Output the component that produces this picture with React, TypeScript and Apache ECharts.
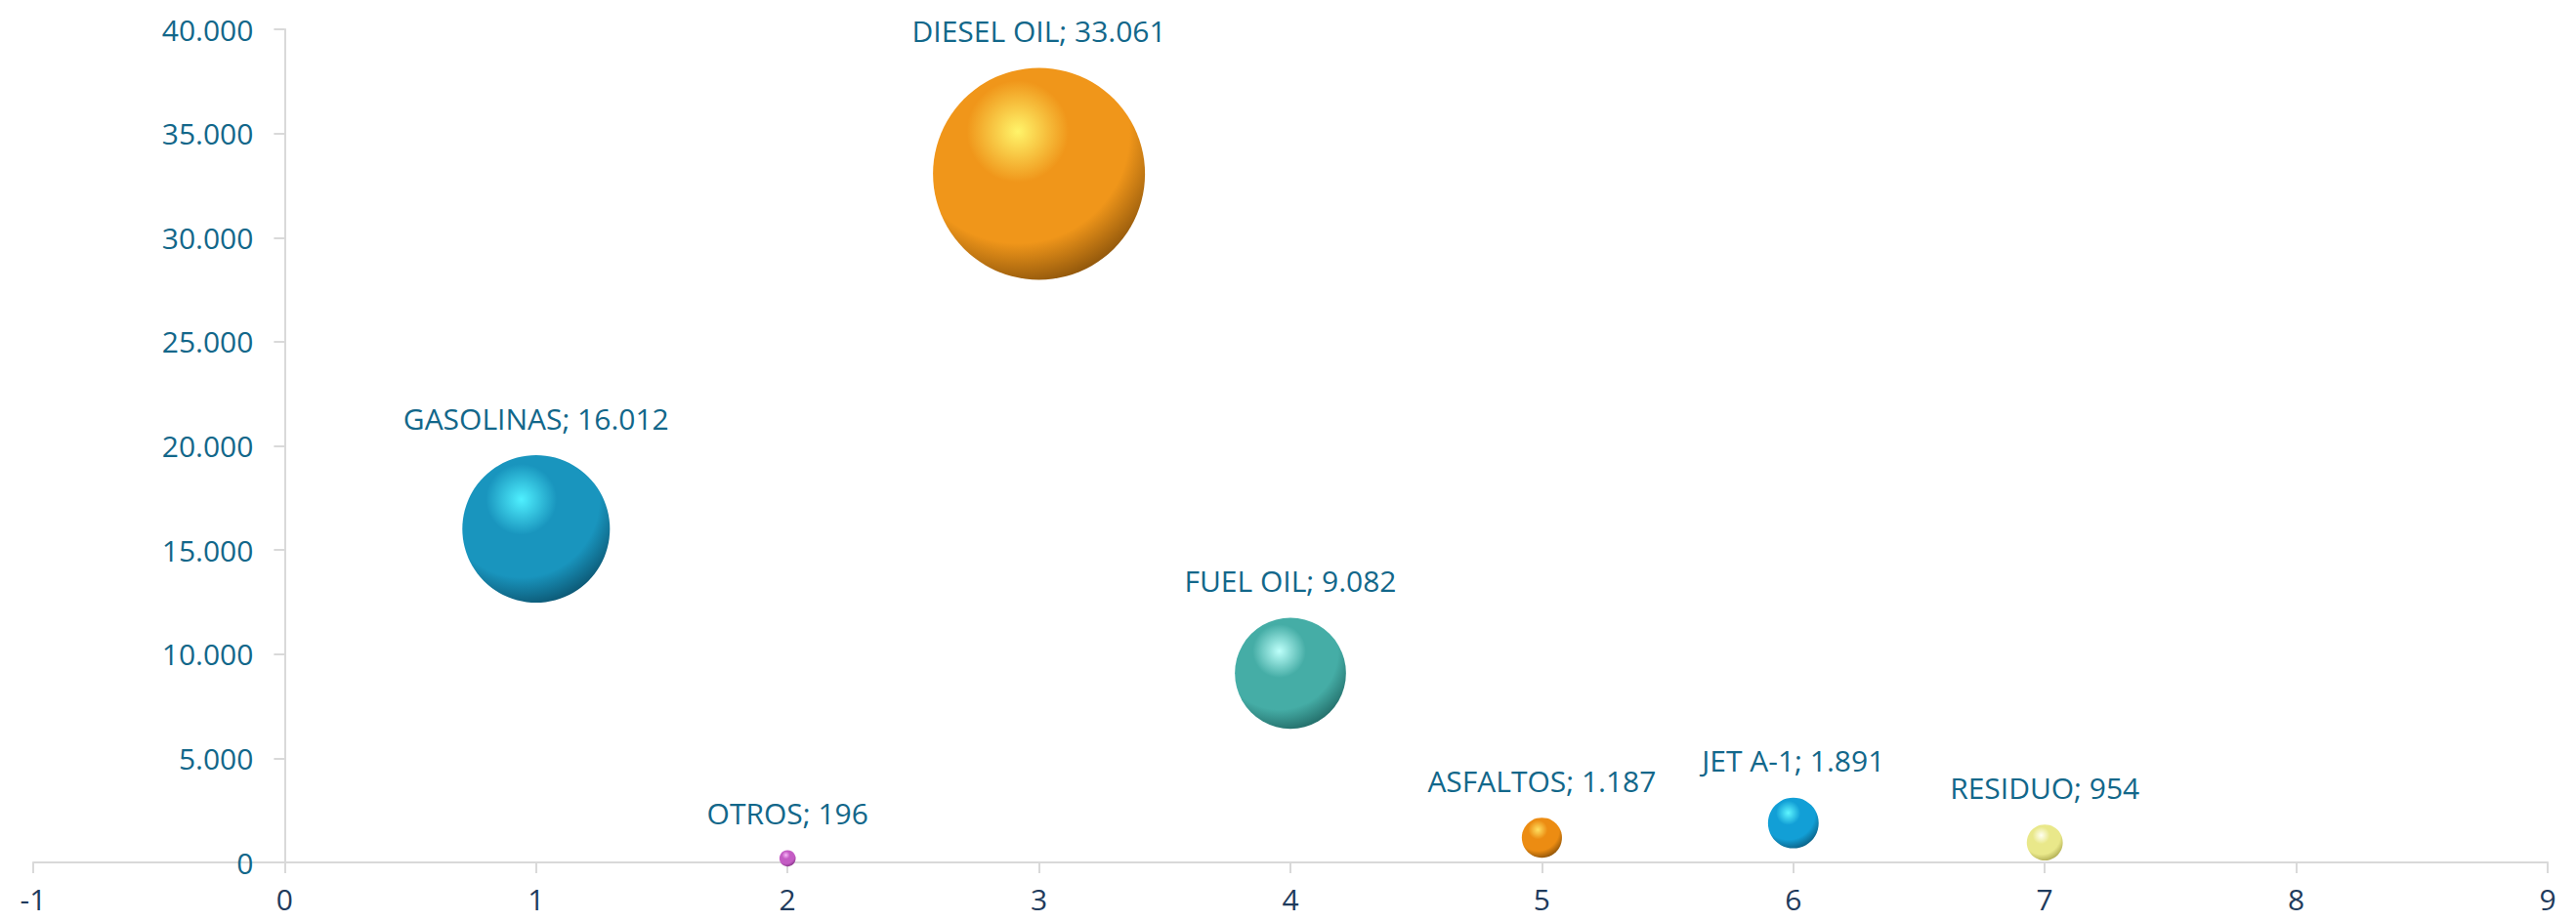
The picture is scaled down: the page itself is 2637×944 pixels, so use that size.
import React, { useEffect, useRef } from "react";
import * as echarts from "echarts";

const names = ["GASOLINAS", "OTROS", "DIESEL OIL", "FUEL OIL", "ASFALTOS", "JET A-1", "RESIDUO"];
const xPositions = [1, 2, 3, 4, 5, 6, 7];
const values = [16012, 196, 33061, 9082, 1187, 1891, 954];
// sphere palettes: [highlight, base, dark]
const palettes = [
  ["#4FF0FF", "#1995BE", "#08425A"],
  ["#F8B4F8", "#C45CC4", "#6E2470"],
  ["#FFF46A", "#F0961A", "#6E4006"],
  ["#BDFFFA", "#45ADA6", "#175754"],
  ["#FFE060", "#EC8C12", "#6E4006"],
  ["#5EF6FF", "#129FD6", "#084B6A"],
  ["#FFFFF2", "#E9E88A", "#9C9840"],
];
const xTicks = { min: -1, max: 9, interval: 1 };
const yTicks = { min: 0, max: 40000, interval: 5000 };

const fmt = (v: number) => String(v).replace(/\B(?=(\d{3})+(?!\d))/g, ".");

const W = 2637;
const H = 944;
const GRID = { left: 34, right: 29, top: 30, bottom: 61 };

export default function App() {
  const ref = useRef<HTMLDivElement>(null);
  useEffect(() => {
    if (!ref.current) return;
    const chart = echarts.init(ref.current, null, { renderer: "svg" });
    const maxVal = Math.max(...values);
    // place the y axis at x = 0 (labels follow it) via offset from grid's left edge
    const unitPx = (W - GRID.left - GRID.right) / (xTicks.max - xTicks.min);
    const yOffset = -(0 - xTicks.min) * unitPx;
    const data = names.map((n, i) => {
      const [hi, base, dark] = palettes[i];
      return {
        name: n,
        value: [xPositions[i], values[i]],
        itemStyle: {
          opacity: 1,
          color: {
            type: "radial",
            x: 0.4,
            y: 0.3,
            r: 0.8,
            colorStops: [
              { offset: 0, color: hi },
              { offset: 0.3, color: base },
              { offset: 0.66, color: base },
              { offset: 1, color: dark },
            ],
          },
        },
      };
    });
    chart.setOption({
      animation: false,
      textStyle: { fontFamily: "Open Sans" },
      grid: { ...GRID, containLabel: false, outerBoundsMode: "none" },
      xAxis: {
        type: "value",
        min: xTicks.min,
        max: xTicks.max,
        interval: xTicks.interval,
        splitLine: { show: false },
        axisLine: { show: true, onZero: true, lineStyle: { color: "#D9D9D9", width: 2 } },
        axisTick: { show: true, length: 11, lineStyle: { color: "#D9D9D9", width: 2 } },
        axisLabel: { color: "#1F3B5C", fontSize: 30, margin: 22, fontFamily: "Open Sans" },
      },
      yAxis: {
        type: "value",
        min: yTicks.min,
        max: yTicks.max,
        interval: yTicks.interval,
        offset: yOffset,
        splitLine: { show: false },
        axisLine: { show: true, onZero: false, lineStyle: { color: "#D9D9D9", width: 2 } },
        axisTick: { show: true, length: 11, lineStyle: { color: "#D9D9D9", width: 2 } },
        axisLabel: {
          color: "#12678A",
          fontSize: 30,
          margin: 32,
          fontFamily: "Open Sans",
          formatter: (v: number) => fmt(v),
        },
      },
      series: [
        {
          type: "scatter",
          data,
          symbolSize: (val: number[]) => 217 * Math.sqrt(val[1] / maxVal),
          itemStyle: { opacity: 1 },
          label: {
            show: true,
            position: "top",
            distance: 23,
            color: "#12678A",
            fontSize: 30,
            fontFamily: "Open Sans",
            formatter: (p: any) => `${p.name}; ${fmt(p.value[1])}`,
          },
        },
      ],
    });
    return () => chart.dispose();
  }, []);
  return (
    <div
      ref={ref}
      style={{ position: "absolute", left: 0, top: 0, width: W, height: H, background: "#fff" }}
    />
  );
}
